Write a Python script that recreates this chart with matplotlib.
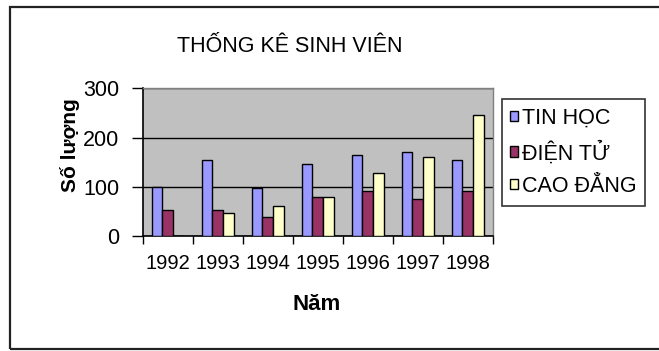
import matplotlib
matplotlib.use("Agg")
import matplotlib.pyplot as plt
from matplotlib.patches import Rectangle, Patch
import numpy as np

plt.rcParams['font.family'] = ['Liberation Sans', 'DejaVu Sans']

years = ['1992', '1993', '1994', '1995', '1996', '1997', '1998']
tin_hoc = [100, 154, 97, 146, 164, 171, 154]
dien_tu = [53, 53, 39, 79, 92, 75, 92]
cao_dang = [0, 46, 61, 79, 127, 160, 246]
series_names = ['TIN HỌC', 'ĐIỆN TỬ', 'CAO ĐẲNG']
series_colors = ['#9999FF', '#993366', '#FFFFCC']

W, H = 659, 351
fig = plt.figure(figsize=(W / 100, H / 100), dpi=100)
fig.patch.set_facecolor('white')

# chart frame (runs off the right edge)
fig.add_artist(Rectangle((10 / W, 1 - 349 / H), 660 / W, (349 - 7) / H,
                         transform=fig.transFigure, fill=False,
                         edgecolor='#222222', lw=1.6, clip_on=False))

ax = fig.add_axes([142.7 / W, 1 - 236 / H, 350 / W, 147.7 / H])
ax.set_facecolor('#C0C0C0')

x = np.arange(len(years))
bw = 0.216
for i, (vals, col, name) in enumerate(zip([tin_hoc, dien_tu, cao_dang],
                                          series_colors, series_names)):
    ax.bar(x + (i - 1) * bw, vals, width=bw, color=col, edgecolor='black',
           linewidth=1.0, label=name, zorder=3)

ax.set_xlim(-0.5, len(years) - 0.5)
ax.set_ylim(0, 300)
ax.set_yticks([0, 100, 200, 300])
ax.yaxis.grid(True, color='black', lw=1.0, zorder=1)
ax.set_axisbelow(True)

ax.set_xticks(x)
ax.set_xticklabels(years, fontsize=14.5)
ax.set_xticks(np.arange(-0.5, len(years), 1.0), minor=True)
ax.tick_params(axis='x', which='major', length=0, pad=13)
ax.tick_params(axis='x', which='minor', length=6, width=1.0, direction='out', color='black')
ax.tick_params(axis='y', length=8, width=1.0, direction='out', labelsize=15.5, pad=9)

for s in ['top', 'right']:
    ax.spines[s].set_color('#808080')
    ax.spines[s].set_linewidth(1.0)
for s in ['left', 'bottom']:
    ax.spines[s].set_color('black')
    ax.spines[s].set_linewidth(1.2)

fig.text(290 / W, 1 - 46 / H, 'THỐNG KÊ SINH VIÊN', fontsize=15.5,
         ha='center', va='center')
fig.text(70 / W, 1 - 145 / H, 'Số lượng', fontsize=15, fontweight='bold',
         rotation=90, ha='center', va='center')
fig.text(317 / W, 1 - 305 / H, 'Năm', fontsize=16, fontweight='bold',
         ha='center', va='center')

handles = [Patch(facecolor=c, edgecolor='black', lw=1.0) for c in series_colors]
leg = fig.legend(handles, series_names, loc='upper left',
                 bbox_to_anchor=(501.7 / W, 1 - 99.3 / H),
                 fontsize=15.5, frameon=True, fancybox=False,
                 handlelength=0.35, handleheight=0.35, handletextpad=0.2,
                 borderpad=0.4, labelspacing=0.55, borderaxespad=0)
leg.get_frame().set_edgecolor('black')
leg.get_frame().set_linewidth(1.2)

fig.savefig('out.png', dpi=100, facecolor='white')
